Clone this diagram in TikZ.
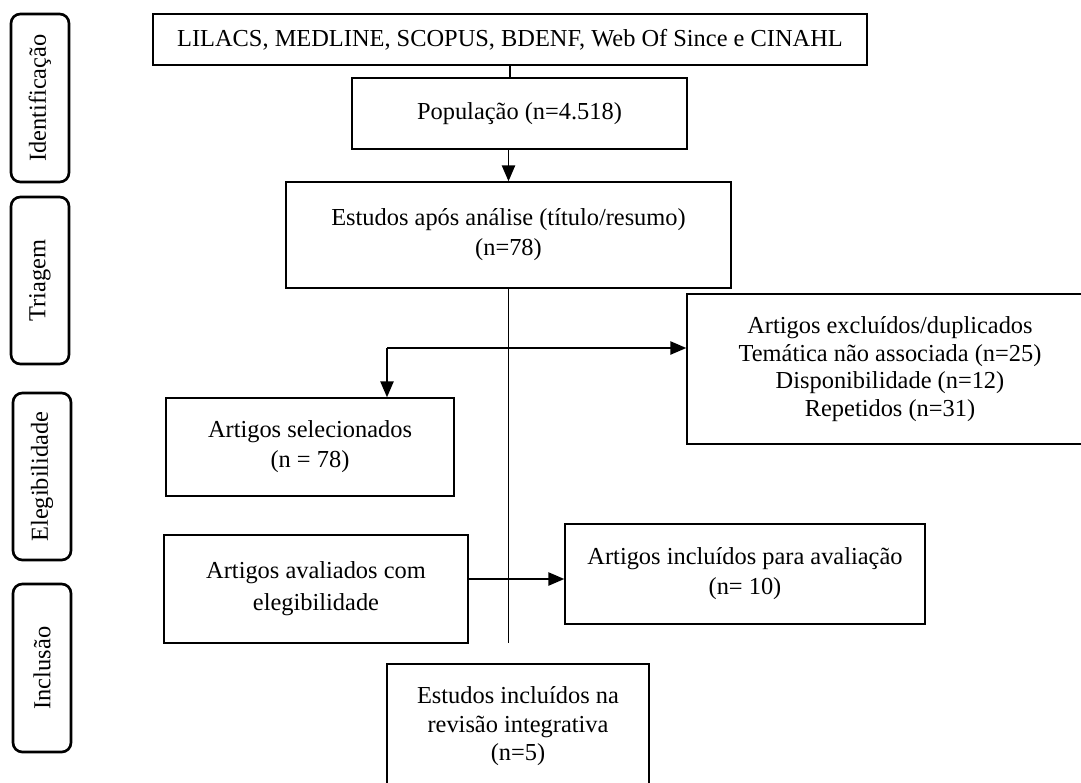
\documentclass[tikz,border=0pt]{standalone}
\usepackage{fontspec}
\setmainfont{Liberation Serif}
\usetikzlibrary{arrows.meta}
\newcommand\bodyfont[1]{\fontsize{18.3pt}{#1}\selectfont}
\tikzset{
  box/.style={draw, line width=1.1pt, rectangle, align=center, inner sep=0pt},
  tabbox/.style={draw, line width=2pt, rounded corners=7pt, rotate=90, inner sep=0pt, font=\bodyfont{21pt}},
  ln/.style={line width=1.2pt},
  arr/.style={line width=1.2pt, -{Triangle[length=12pt,width=10pt]}},
}
\begin{document}
\begin{tikzpicture}[x=0.75pt,y=-0.75pt]
\useasboundingbox (0,0) rectangle (1081,782);
\fill[white] (0,0) rectangle (1081,782);
\clip (0,0) rectangle (1081,782);

% side tabs
\node[tabbox, minimum width=126pt, minimum height=43.5pt] (t1) at (40,98) {Identificação};
\node[tabbox, minimum width=125.25pt, minimum height=43.5pt] (t2) at (40,280.5) {Triagem};
\node[tabbox, minimum width=125.25pt, minimum height=43.5pt] (t3) at (42,476.5) {Elegibilidade};
\node[tabbox, minimum width=126pt, minimum height=43.5pt] (t4) at (42,668) {Inclusão};

% boxes
\node[box, minimum width=535.5pt, minimum height=38.25pt, font=\bodyfont{21pt}] (lil) at (510,39.5)
  {LILACS, MEDLINE, SCOPUS, BDENF, Web Of Since e CINAHL};
\node[box, minimum width=251.25pt, minimum height=53.25pt, font=\bodyfont{21pt}] (pop) at (519.5,113.5)
  {População (n=4.518)};
\node[box, minimum width=333.75pt, minimum height=79.5pt, font=\bodyfont{22.5pt}] (est) at (508.5,235)
  {Estudos após análise (título/resumo)\\(n=78)};
\node[box, minimum width=304.5pt, minimum height=112.5pt, font=\bodyfont{20.8pt}] (excl) at (890,369)
  {Artigos excluídos/duplicados\\Temática não associada (n=25)\\Disponibilidade (n=12)\\Repetidos (n=31)};
\node[box, minimum width=216pt, minimum height=73.5pt, font=\bodyfont{22.5pt}] (sel) at (310,447)
  {Artigos selecionados\\(n = 78)};
\node[box, minimum width=228pt, minimum height=81pt, font=\bodyfont{24pt}] (aval) at (316,589)
  {Artigos avaliados com\\elegibilidade};
\node[box, minimum width=270pt, minimum height=75pt, font=\bodyfont{22.5pt}] (inc) at (745,574)
  {Artigos incluídos para avaliação\\(n= 10)};
\node[box, minimum width=196.5pt, minimum height=93.75pt, font=\bodyfont{21.4pt}] (fin) at (518,726.5)
  {Estudos incluídos na\\revisão integrativa\\(n=5)};

% connectors
\coordinate (vend) at (508.5,643);
\coordinate (hl) at (387,348);
\coordinate (ha) at (468,579);

\draw[ln] (lil.south) -- (lil.south |- pop.north);
\draw[arr] (pop.south -| est.north) -- (est.north);
\draw[ln] (est.south) -- (vend);
\draw[arr] (hl) -- (hl -| excl.west);
\draw[arr] (hl) -- (hl |- sel.north);
\draw[arr] (ha) -- (ha -| inc.west);
\end{tikzpicture}
\end{document}
